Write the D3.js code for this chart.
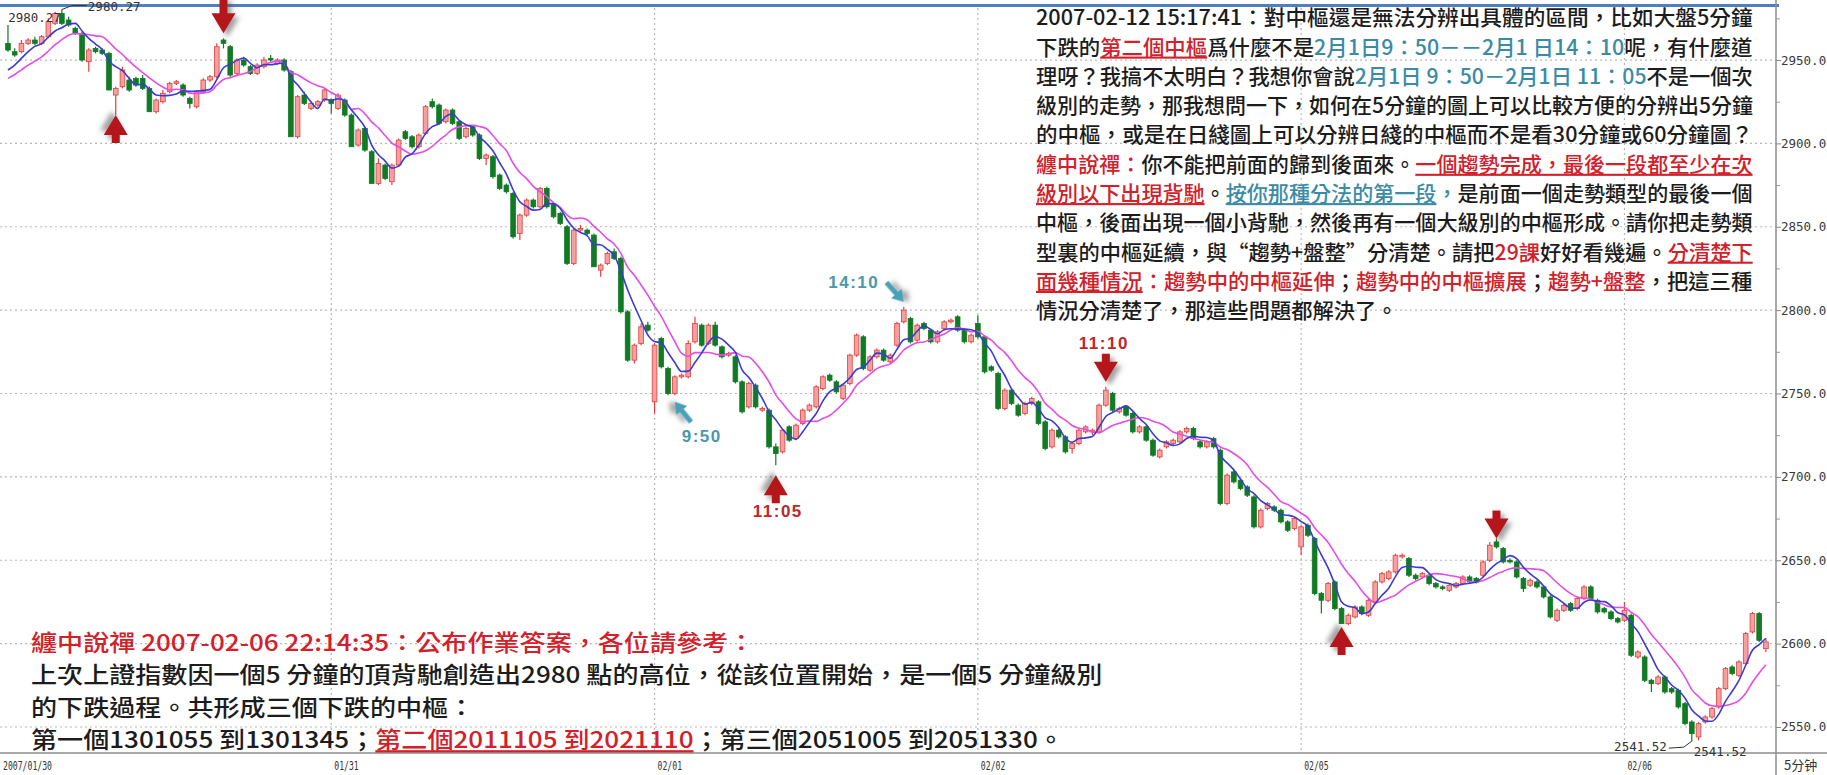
<!DOCTYPE html>
<html>
<head>
<meta charset="utf-8">
<script src="https://cdn.jsdelivr.net/npm/d3@7"></script>
<style>
html, body { margin: 0; padding: 0; background: #fff; }
svg { display: block; }
</style>
</head>
<body>
<div id="chart"></div>
<script>
const W = 1827, H = 775;

// 5-minute bars, one array per trading day: [open, high, low, close]
const day0130 = [
  [2960,2971,2955,2956],[2955,2957,2952,2953],[2955,2962,2954,2960],[2960,2963,2959,2962],
  [2962,2964,2959,2960],[2960,2965,2959,2964],[2964,2975,2963,2973],[2972,2979,2971,2978],
  [2978,2980.27,2971,2972],[2974,2976,2970,2971],[2969,2970,2965,2966],[2966,2967,2949,2950],
  [2949,2957,2943,2956],[2957,2958,2954,2955],[2956,2957,2953,2954],[2954,2955,2932,2932],
  [2929,2934,2917,2933],[2934,2946,2933,2944],[2938,2940,2931,2932],[2939,2940,2934,2935],
  [2939,2941,2932,2933],[2933,2934,2919,2919],[2919,2927,2918,2926],[2925,2932,2924,2930],
  [2931,2937,2930,2936],[2936,2938,2935,2937],[2935,2936,2928,2929],[2927,2928,2921,2924],
  [2922,2932,2921,2931],[2931,2939,2930,2938],[2938,2941,2937,2940],[2940,2960,2939,2958],
  [2962,2963,2957,2960],[2958,2959,2940,2941],[2942,2951,2941,2950],[2950,2952,2946,2947],
  [2946,2947,2941,2942],[2942,2948,2941,2947],[2946,2952,2945,2950],[2951,2953,2949,2950],
  [2948,2951,2947,2950],[2950,2951,2943,2944],[2943,2944,2904,2904],[2904,2929,2903,2928],
  [2929,2931,2923,2924],[2921,2925,2920,2924],[2923,2926,2922,2925],[2926,2933,2925,2932]
];
const day0131 = [
  [2926,2927,2918,2924],[2921,2930,2920,2929],[2926,2927,2916,2917],[2917,2918,2898,2898],
  [2899,2909,2898,2908],[2909,2910,2895,2896],[2895,2896,2876,2876],[2876,2891,2875,2888],
  [2887,2888,2878,2879],[2877,2888,2875,2887],[2887,2903,2886,2902],[2907,2908,2902,2903],
  [2904,2905,2897,2898],[2898,2906,2897,2905],[2906,2923,2905,2922],[2925,2927,2921,2922],
  [2923,2924,2911,2912],[2913,2921,2912,2920],[2920,2921,2911,2912],[2913,2914,2902,2903],
  [2904,2910,2903,2909],[2910,2911,2904,2905],[2905,2906,2890,2891],[2891,2894,2887,2893],
  [2892,2893,2879,2880],[2881,2882,2872,2873],[2875,2876,2870,2871],[2870,2871,2843,2844],
  [2846,2858,2842,2857],[2857,2867,2856,2866],[2866,2867,2861,2862],[2862,2874,2861,2873],
  [2873,2874,2861,2862],[2864,2865,2855,2856],[2858,2859,2851,2852],[2850,2851,2827,2828],
  [2828,2849,2827,2848],[2848,2851,2847,2849],[2848,2849,2845,2846],[2845,2846,2826,2826],
  [2824,2828,2820,2827],[2828,2835,2827,2834],[2835,2837,2830,2831],[2831,2832,2798,2799],
  [2799,2800,2769,2770],[2770,2780,2768,2779],[2780,2792,2779,2790],[2791,2793,2787,2788]
];
const day0201 = [
  [2745,2780,2738,2779],[2783,2784,2765,2766],[2765,2766,2749,2750],[2750,2761,2749,2760],
  [2760,2762,2759,2761],[2760,2782,2759,2780],[2781,2796,2780,2792],[2791,2792,2778,2779],
  [2780,2792,2779,2791],[2791,2793,2778,2779],[2778,2779,2771,2772],[2773,2775,2772,2774],
  [2772,2773,2756,2757],[2757,2758,2738,2739],[2742,2757,2741,2756],[2755,2756,2741,2742],
  [2740,2742,2739,2741],[2740,2741,2717,2718],[2718,2720,2707,2714],[2715,2729,2714,2728],
  [2730,2731,2721,2722],[2723,2732,2722,2731],[2732,2741,2731,2740],[2740,2744,2739,2743],
  [2742,2755,2741,2754],[2753,2761,2752,2760],[2761,2762,2757,2758],[2757,2758,2750,2751],
  [2747,2756,2746,2755],[2756,2774,2755,2773],[2773,2786,2772,2785],[2784,2785,2764,2765],
  [2764,2773,2763,2772],[2772,2777,2771,2776],[2776,2777,2769,2770],[2769,2774,2768,2773],
  [2779,2793,2778,2792],[2793,2802,2792,2800],[2795,2796,2780,2781],[2782,2792,2781,2791],
  [2792,2793,2788,2789],[2788,2789,2780,2781],[2781,2788,2780,2787],[2789,2794,2788,2793],
  [2793,2795,2792,2794],[2796,2797,2787,2788],[2788,2789,2780,2781],[2781,2786,2780,2785]
];
const day0202 = [
  [2792,2797,2783,2784],[2784,2785,2762,2763],[2766,2767,2763,2764],[2762,2763,2740,2741],
  [2741,2753,2740,2752],[2752,2753,2743,2744],[2743,2744,2736,2737],[2738,2745,2737,2744],
  [2744,2748,2743,2747],[2745,2746,2731,2732],[2733,2734,2716,2717],[2718,2729,2717,2728],
  [2728,2729,2723,2724],[2724,2725,2714,2715],[2717,2721,2714,2720],[2720,2729,2719,2728],
  [2727,2731,2726,2730],[2727,2729,2725,2728],[2727,2744,2726,2743],[2743,2754,2742,2752],
  [2750,2751,2739,2740],[2739,2742,2738,2741],[2742,2743,2736,2737],[2738,2739,2726,2727],
  [2727,2731,2726,2730],[2730,2731,2721,2722],[2722,2723,2712,2713],[2712,2717,2711,2716],
  [2718,2722,2717,2721],[2720,2723,2719,2722],[2721,2728,2720,2727],[2727,2730,2726,2729],
  [2729,2730,2722,2723],[2721,2722,2717,2718],[2718,2722,2717,2721],[2723,2724,2717,2718],
  [2716,2717,2683,2684],[2684,2702,2683,2701],[2703,2704,2696,2697],[2698,2699,2692,2693],
  [2694,2695,2688,2689],[2688,2689,2669,2670],[2670,2681,2669,2680],[2681,2685,2680,2684],
  [2682,2683,2679,2680],[2680,2681,2672,2673],[2673,2674,2667,2668],[2669,2676,2668,2675]
];
const day0205 = [
  [2658,2671,2653,2670],[2671,2672,2664,2665],[2663,2664,2629,2630],[2630,2631,2618,2626],
  [2626,2637,2625,2636],[2637,2638,2620,2621],[2621,2622,2612,2612],[2612,2618,2611,2617],
  [2616,2623,2615,2622],[2622,2623,2617,2618],[2617,2627,2616,2626],[2625,2638,2624,2637],
  [2637,2643,2636,2642],[2639,2644,2638,2643],[2643,2654,2642,2653],[2652,2654,2651,2653],
  [2651,2652,2640,2641],[2641,2642,2638,2639],[2640,2643,2639,2642],[2641,2642,2635,2636],
  [2636,2637,2633,2634],[2634,2635,2632,2633],[2632,2636,2631,2635],[2634,2637,2633,2636],
  [2636,2641,2635,2640],[2640,2641,2636,2637],[2639,2640,2636,2637],[2641,2650,2640,2649],
  [2650,2661,2649,2659],[2661,2663,2657,2658],[2657,2658,2648,2649],[2650,2651,2648,2649],
  [2649,2650,2639,2640],[2639,2640,2631,2633],[2635,2639,2634,2638],[2637,2638,2633,2634],
  [2634,2635,2627,2628],[2628,2629,2615,2616],[2614,2621,2613,2620],[2620,2624,2619,2623],
  [2624,2625,2619,2620],[2621,2628,2620,2627],[2627,2635,2626,2634],[2634,2635,2626,2627],
  [2626,2627,2618,2619],[2621,2622,2618,2619],[2619,2620,2614,2615],[2615,2616,2612,2613]
];
const day0206 = [
  [2614,2625,2613,2620],[2617,2618,2592,2593],[2592,2596,2591,2595],[2592,2593,2577,2578],
  [2578,2579,2571,2576],[2576,2581,2575,2580],[2580,2581,2570,2571],[2573,2574,2570,2571],
  [2572,2573,2561,2562],[2564,2565,2551,2552],[2553,2554,2541.52,2546],[2544,2553,2542,2552],
  [2553,2557,2552,2556],[2556,2562,2555,2561],[2562,2574,2561,2573],[2573,2586,2572,2585],
  [2586,2587,2581,2582],[2581,2590,2580,2589],[2588,2607,2587,2606],[2607,2619,2606,2618],
  [2618,2619,2601,2602],[2597,2603,2595,2601]
];
// closes before the first visible bar (seed for the moving averages)
const priorCloses = [2930, 2932, 2934, 2936, 2938, 2938, 2940, 2942, 2944];

const dayLabels = ["2007/01/30", "01/31", "02/01", "02/02", "02/05", "02/06"];
const priceTicks = [2550, 2600, 2650, 2700, 2750, 2800, 2850, 2900, 2950];
const minorTicks = [2575, 2625, 2675, 2725, 2775, 2825, 2875, 2925, 2975];
const highPoint = { bar: 8, price: 2980.27 };
const lowPoint = { bar: 250, price: 2541.52 };

// arrow marks anchored on bars
const marks = [
  { bar: 16, price: 2917, kind: "up" },
  { bar: 32, price: 2966, kind: "down" },
  { bar: 114, price: 2701, kind: "up", label: "11:05" },
  { bar: 163, price: 2757, kind: "down", label: "11:10" },
  { bar: 198, price: 2610, kind: "up" },
  { bar: 221, price: 2663, kind: "down" },
  { bar: 133, price: 2805, kind: "teal", label: "14:10" },
  { bar: 99, price: 2745, kind: "teal", label: "9:50" }
];

const K = "#1c1c1c", R = "#d3202a", T = "#3a8ca6";
const noteTop = [
  [["2007-02-12 15:17:41：對中樞還是無法分辨出具體的區間，比如大盤5分鐘", K]],
  [["下跌的", K], ["第二個中樞", R, 1], ["爲什麼不是", K], ["2月1日9：50－－2月1 日14：10", T], ["呢，有什麼道", K]],
  [["理呀？我搞不太明白？我想你會說", K], ["2月1日 9：50－2月1日 11：05", T], ["不是一個次", K]],
  [["級別的走勢，那我想問一下，如何在5分鐘的圖上可以比較方便的分辨出5分鐘", K]],
  [["的中樞，或是在日綫圖上可以分辨日綫的中樞而不是看30分鐘或60分鐘圖？", K]],
  [["纏中說禪：", R], ["你不能把前面的歸到後面來。", K], ["一個趨勢完成，最後一段都至少在次", R, 1]],
  [["級別以下出現背馳", R, 1], ["。", K], ["按你那種分法的第一段", T, 1], ["，", T], ["是前面一個走勢類型的最後一個", K]],
  [["中樞，後面出現一個小背馳，然後再有一個大級別的中樞形成。請你把走勢類", K]],
  [["型裏的中樞延續，與“趨勢+盤整”分清楚。請把", K], ["29課", R], ["好好看幾遍。", K], ["分清楚下", R, 1]],
  [["面幾種情況", R, 1], ["：", R], ["趨勢中的中樞延伸", R], ["；", K], ["趨勢中的中樞擴展", R], ["；", K], ["趨勢+盤整", R], ["，把這三種", K]],
  [["情況分清楚了，那這些問題都解決了。", K]]
];
const noteBottom = [
  [["纏中說禪 2007-02-06 22:14:35：公布作業答案，各位請參考：", R]],
  [["上次上證指數因一個5 分鐘的頂背馳創造出2980 點的高位，從該位置開始，是一個5 分鐘級別", K]],
  [["的下跌過程。共形成三個下跌的中樞：", K]],
  [["第一個1301055 到1301345；", K], ["第二個2011105 到2021110", R, 1], ["；第三個2051005 到2051330。", K]]
];

// ---------- build ----------
const candles = [];
const dayStarts = [];
[day0130, day0131, day0201, day0202, day0205, day0206].forEach((bars, d) => {
  dayStarts.push(candles.length);
  bars.forEach(b => candles.push({ i: candles.length, day: d, o: b[0], h: b[1], l: b[2], c: b[3] }));
});
const closes = priorCloses.concat(candles.map(d => d.c));
function movingAvg(n) {
  return candles.map(d => {
    const k = d.i + priorCloses.length;
    return { i: d.i, v: d3.mean(closes.slice(k - n + 1, k + 1)) };
  });
}
const ma5 = movingAvg(5), ma10 = movingAvg(10);

const axisX = 1776, plotBottom = 752;
const x = d3.scaleBand()
  .domain(d3.range(candles.length + 1))
  .range([4.6, axisX])
  .paddingInner(0.3)
  .paddingOuter(0.15);
const cx = i => x(i) + x.bandwidth() / 2;
const y = d3.scaleLinear().domain([2535, 2986]).range([plotBottom, 0]);

const svg = d3.select("#chart").append("svg").attr("width", W).attr("height", H)
  .style("font-family", "'Noto Sans CJK TC', 'Noto Sans CJK SC', sans-serif");

const defs = svg.append("defs");
defs.append("filter").attr("id", "shadow")
  .attr("x", "-60%").attr("y", "-60%").attr("width", "220%").attr("height", "220%")
  .append("feDropShadow")
  .attr("dx", 4).attr("dy", 4).attr("stdDeviation", 2.5)
  .attr("flood-color", "#555").attr("flood-opacity", 0.55);

// grid
const grid = svg.append("g").attr("stroke", "#b8b8b8").attr("stroke-width", 1.2).attr("stroke-dasharray", "2,3");
grid.selectAll("line.h").data(priceTicks).join("line").attr("class", "h")
  .attr("x1", 0).attr("x2", axisX).attr("y1", d => y(d)).attr("y2", d => y(d));
grid.selectAll("line.v").data(dayStarts.slice(1)).join("line").attr("class", "v")
  .attr("x1", d => cx(d)).attr("x2", d => cx(d)).attr("y1", 8).attr("y2", plotBottom);

// top document rule
svg.append("rect").attr("x", 0).attr("y", 4).attr("width", 1779).attr("height", 3).attr("fill", "#4f7fbe");

// right price axis
const yAxis = svg.append("g").attr("transform", `translate(${axisX},0)`)
  .call(d3.axisRight(y).tickValues(priceTicks).tickSize(5).tickSizeOuter(0).tickFormat(d => d.toFixed(1)));
yAxis.select(".domain").remove();
yAxis.selectAll(".tick line").attr("stroke", "#888");
yAxis.selectAll(".tick text").attr("x", 5).attr("fill", "#3a3a3a")
  .style("font-family", "'DejaVu Sans Mono', monospace").style("font-size", "12.5px");
svg.append("g").attr("transform", `translate(${axisX},0)`)
  .call(d3.axisRight(y).tickValues(minorTicks).tickSize(4).tickSizeOuter(0).tickFormat(""))
  .call(g => g.select(".domain").remove())
  .selectAll(".tick line").attr("stroke", "#999");
svg.append("line").attr("x1", axisX).attr("x2", axisX).attr("y1", 0).attr("y2", H)
  .attr("stroke", "#8c8c8c").attr("stroke-width", 1.5);
svg.append("line").attr("x1", 0).attr("x2", W).attr("y1", plotBottom + 1).attr("y2", plotBottom + 1)
  .attr("stroke", "#8c8c8c").attr("stroke-width", 1.5);

// date labels
svg.append("g").selectAll("text").data(dayStarts).join("text")
  .attr("x", (d, k) => k === 0 ? 3 : cx(d) + 3)
  .attr("y", 770)
  .attr("fill", "#333")
  .attr("textLength", (d, k) => dayLabels[k].length * 4.9)
  .attr("lengthAdjust", "spacingAndGlyphs")
  .style("font-family", "'DejaVu Sans Mono', monospace").style("font-size", "12px")
  .text((d, k) => dayLabels[k]);
svg.append("text").attr("x", 1784).attr("y", 770).attr("fill", "#333")
  .style("font-family", "'Noto Sans CJK SC', sans-serif").style("font-size", "13px").text("5分钟");

// text blocks
function richLine(parent, segs, size) {
  const t = parent.append("text").style("font-size", size + "px").style("font-weight", 500);
  segs.forEach(s => {
    t.append("tspan").attr("fill", s[1])
      .style("text-decoration", s[2] ? "underline" : "none")
      .text(s[0]);
  });
  return { t, w: t.node().getComputedTextLength() };
}
const topG = svg.append("g");
const topLeft = 1036, topRight = 1753, topSize = 21;
const topLines = noteTop.map(segs => richLine(topG, segs, topSize));
const topScales = topLines.slice(0, 10).map(l => (topRight - topLeft) / l.w);
const topAvg = d3.mean(topScales);
topLines.forEach((l, k) => {
  const sx = k < 10 ? topScales[k] : topAvg;
  const base = 17.5 + k * 29.3 + topSize * 0.37;
  l.t.attr("transform", `translate(${topLeft},${base}) scale(${sx},1)`);
});

const botG = svg.append("g");
const botLeft = 31, botSize = 23;
const botLines = noteBottom.map(segs => richLine(botG, segs, botSize));
const botScale = (1103 - botLeft) / botLines[1].w;
botLines.forEach((l, k) => {
  const base = 642 + k * 32.6 + botSize * 0.37;
  l.t.attr("transform", `translate(${botLeft},${base}) scale(${botScale},1)`);
});

// candles
const up = d => d.c >= d.o;
const cg = svg.append("g");
cg.selectAll("line").data(candles).join("line")
  .attr("x1", d => cx(d.i)).attr("x2", d => cx(d.i))
  .attr("y1", d => y(d.h)).attr("y2", d => y(d.l))
  .attr("stroke", d => up(d) ? "#e0403f" : "#117a24").attr("stroke-width", 1.2);
cg.selectAll("rect").data(candles).join("rect")
  .attr("x", d => x(d.i)).attr("width", x.bandwidth())
  .attr("y", d => y(Math.max(d.o, d.c)))
  .attr("height", d => Math.max(1.2, Math.abs(y(d.o) - y(d.c))))
  .attr("fill", d => up(d) ? "#f5a0a0" : "#117a24")
  .attr("stroke", d => up(d) ? "#e0403f" : "#117a24").attr("stroke-width", 0.8);

// moving averages
const line = d3.line().x(d => cx(d.i)).y(d => y(d.v)).curve(d3.curveMonotoneX);
svg.append("path").datum(ma10).attr("d", line).attr("fill", "none").attr("stroke", "#e64ce6").attr("stroke-width", 1.6);
svg.append("path").datum(ma5).attr("d", line).attr("fill", "none").attr("stroke", "#3b3bd4").attr("stroke-width", 1.6);

// extreme labels
const mono = g => g.style("font-family", "'DejaVu Sans Mono', monospace").style("font-size", "12.5px").attr("fill", "#333");
const hx = cx(highPoint.bar), hy = y(highPoint.price);
svg.append("text").attr("x", hx - 1).attr("y", hy + 12).attr("text-anchor", "end").call(mono).text(highPoint.price.toFixed(2));
svg.append("polyline").attr("points", [[hx, hy], [hx + 10, hy - 4], [hx + 25, hy - 4]].join(" "))
  .attr("fill", "none").attr("stroke", "#333").attr("stroke-width", 1);
svg.append("text").attr("x", hx + 26).attr("y", hy + 1).call(mono).text(highPoint.price.toFixed(2));

const lx = cx(lowPoint.bar), ly = y(lowPoint.price);
svg.append("text").attr("x", lx - 25).attr("y", ly + 10).attr("text-anchor", "end").call(mono).text(lowPoint.price.toFixed(2));
svg.append("polyline").attr("points", [[lx - 23, ly + 7], [lx - 8, ly + 6], [lx, ly]].join(" "))
  .attr("fill", "none").attr("stroke", "#333").attr("stroke-width", 1);
svg.append("text").attr("x", lx + 2).attr("y", ly + 15).call(mono).text(lowPoint.price.toFixed(2));

// arrows
function arrowPath(L, sw, hw, hl) {
  return `M0,0L${-hw / 2},${-hl}L${-sw / 2},${-hl}L${-sw / 2},${-L}L${sw / 2},${-L}L${sw / 2},${-hl}L${hw / 2},${-hl}Z`;
}
const tealAngle = { "14:10": -42, "9:50": 141 };
const labelOffset = { "11:05": [2, 42], "11:10": [-2, -33], "14:10": [-50, -14], "9:50": [27, 40] };
const ag = svg.append("g");
marks.forEach(m => {
  const tx = cx(m.bar), ty = y(m.price);
  if (m.kind === "teal") {
    ag.append("path").attr("d", arrowPath(26, 5, 14, 11))
      .attr("transform", `translate(${tx},${ty}) rotate(${tealAngle[m.label]})`)
      .attr("fill", "#4aa0b8").attr("filter", "url(#shadow)");
  } else {
    const L = m.bar === 32 ? 36 : 28;
    ag.append("path").attr("d", arrowPath(L, 8, 24, 20))
      .attr("transform", `translate(${tx},${ty}) rotate(${m.kind === "up" ? 180 : 0})`)
      .attr("fill", "#b5141c").attr("filter", "url(#shadow)");
  }
  if (m.label) {
    const o = labelOffset[m.label];
    ag.append("text").attr("x", tx + o[0]).attr("y", ty + o[1]).attr("text-anchor", "middle")
      .attr("fill", m.kind === "teal" ? "#4a98ad" : "#c0262c")
      .style("font-family", "'Liberation Sans', Arial, sans-serif").style("font-weight", "bold")
      .style("font-size", "17px").style("letter-spacing", "1.5px")
      .text(m.label);
  }
});
</script>
</body>
</html>
